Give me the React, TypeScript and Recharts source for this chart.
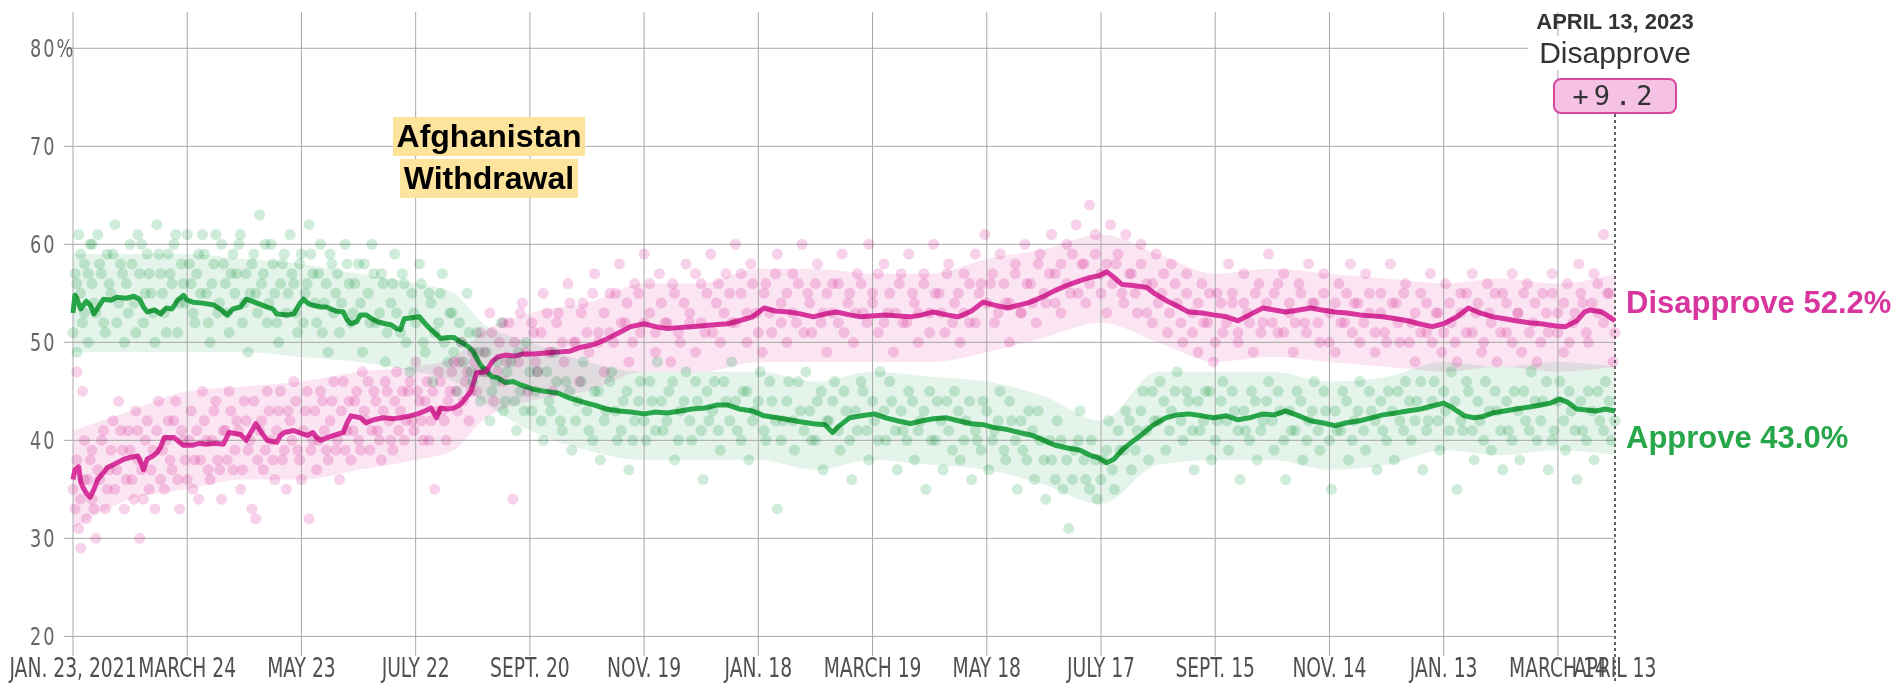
import React from "react";
import {
  ComposedChart, Line, Area, Scatter, XAxis, YAxis, ReferenceLine
} from "recharts";

// x = days since Jan. 23, 2021 (last day = April 13, 2023)
const X_TICKS = [0, 60, 120, 180, 240, 300, 360, 420, 480, 540, 600, 660, 720, 780, 810];
const X_LABELS = [
  "JAN. 23, 2021", "MARCH 24", "MAY 23", "JULY 22", "SEPT. 20", "NOV. 19", "JAN. 18",
  "MARCH 19", "MAY 18", "JULY 17", "SEPT. 15", "NOV. 14", "JAN. 13", "MARCH 14", "APRIL 13",
];
const Y_TICKS = [20, 30, 40, 50, 60, 70, 80];

// polling averages [day, value]
const APPROVE_LINE = [
  [0,53.0],[1,54.8],[2,54.5],[4,53.4],[7,54.2],[9,53.8],[11,52.9],[13,53.5],[16,54.4],[20,54.3],[23,54.6],[28,54.5],[32,54.7],[35,54.4],[37,53.6],[39,53.1],[43,53.3],[46,52.9],[49,53.5],[52,53.4],[55,54.3],[58,54.8],[60,54.3],[63,54.1],[68,54.0],[74,53.8],[78,53.3],[81,52.8],[84,53.4],[88,53.6],[91,54.4],[94,54.2],[98,53.9],[102,53.6],[105,53.4],[107,52.9],[113,52.8],[116,52.9],[119,53.9],[121,54.4],[124,53.9],[126,53.8],[130,53.6],[133,53.6],[138,53.2],[142,53.1],[144,52.3],[146,51.9],[149,52.1],[151,52.8],[154,52.8],[157,52.4],[160,52.1],[164,51.9],[167,51.8],[170,51.4],[172,51.3],[174,52.4],[178,52.5],[182,52.6],[185,51.9],[188,51.3],[191,50.8],[193,50.4],[197,50.5],[200,50.5],[203,50.1],[205,49.9],[208,49.5],[210,49.1],[212,48.4],[214,47.7],[217,47.1],[220,46.5],[223,46.4],[227,45.9],[231,46.0],[236,45.6],[242,45.2],[248,45.0],[255,44.8],[261,44.3],[268,43.9],[274,43.6],[280,43.2],[287,43.0],[293,42.9],[300,42.7],[306,42.9],[312,42.8],[319,43.0],[325,43.2],[332,43.3],[338,43.6],[344,43.6],[350,43.2],[357,43.0],[363,42.5],[370,42.3],[376,42.1],[382,41.9],[389,41.7],[395,41.6],[399,40.8],[402,41.4],[408,42.3],[414,42.5],[421,42.7],[427,42.3],[433,42.0],[440,41.7],[446,42.0],[452,42.2],[459,42.3],[465,42.0],[472,41.7],[478,41.6],[484,41.3],[491,41.1],[497,40.8],[504,40.5],[510,40.0],[516,39.5],[523,39.2],[529,39.0],[534,38.5],[539,38.2],[543,37.7],[547,38.1],[551,39.0],[556,39.8],[561,40.5],[567,41.5],[574,42.3],[580,42.6],[586,42.7],[593,42.5],[599,42.3],[606,42.5],[612,42.1],[618,42.3],[625,42.7],[631,42.6],[637,43.0],[644,42.5],[650,42.0],[656,41.8],[663,41.5],[669,41.8],[676,42.0],[682,42.3],[688,42.6],[695,42.8],[701,43.0],[708,43.2],[714,43.5],[720,43.8],[724,43.4],[727,43.0],[731,42.5],[736,42.3],[740,42.4],[746,42.8],[752,43.0],[758,43.2],[765,43.4],[771,43.6],[776,43.8],[781,44.2],[785,43.9],[790,43.2],[795,43.1],[800,43.0],[805,43.2],[810,43.0],
];
const DISAPPROVE_LINE = [
  [0,36.0],[1,37.0],[3,37.3],[4,35.8],[5,35.3],[7,34.6],[9,34.2],[11,35.0],[13,36.0],[16,36.7],[18,37.2],[22,37.6],[27,38.1],[31,38.3],[34,38.4],[36,37.6],[37,37.0],[39,38.1],[42,38.4],[44,38.7],[46,39.3],[48,40.3],[53,40.3],[56,39.8],[58,39.5],[63,39.5],[66,39.7],[70,39.6],[75,39.7],[79,39.6],[82,40.8],[88,40.6],[91,40.0],[94,41.0],[96,41.7],[99,40.8],[102,40.0],[107,39.8],[109,40.5],[111,40.8],[116,41.0],[120,40.7],[123,40.5],[126,40.8],[128,40.3],[130,40.0],[134,40.3],[137,40.5],[142,40.8],[144,41.8],[146,42.5],[151,42.3],[154,41.8],[158,42.1],[163,42.3],[168,42.2],[172,42.3],[177,42.5],[181,42.7],[185,43.0],[188,43.3],[191,42.3],[193,43.3],[197,43.2],[200,43.3],[203,43.6],[205,44.0],[209,45.0],[212,46.9],[217,47.0],[220,48.0],[223,48.5],[227,48.7],[232,48.6],[236,48.8],[242,48.8],[248,48.9],[254,49.0],[261,49.1],[267,49.5],[274,49.8],[280,50.3],[287,51.0],[293,51.6],[300,51.9],[306,51.6],[312,51.4],[318,51.5],[325,51.6],[331,51.7],[337,51.8],[344,51.9],[350,52.2],[357,52.6],[363,53.5],[369,53.2],[376,53.1],[382,52.9],[389,52.6],[395,52.9],[401,53.1],[408,52.8],[414,52.6],[421,52.7],[427,52.8],[433,52.7],[440,52.6],[446,52.8],[452,53.1],[459,52.8],[465,52.6],[472,53.2],[478,54.1],[484,53.8],[491,53.5],[497,53.8],[503,54.1],[510,54.7],[516,55.3],[522,55.8],[529,56.3],[534,56.6],[539,56.8],[543,57.2],[547,56.6],[551,55.9],[557,55.8],[564,55.6],[568,55.0],[574,54.3],[580,53.7],[586,53.1],[593,53.0],[599,52.8],[606,52.6],[612,52.2],[618,52.8],[625,53.5],[631,53.3],[637,53.1],[644,53.3],[650,53.5],[656,53.3],[663,53.1],[669,53.0],[676,52.8],[682,52.7],[688,52.6],[695,52.4],[701,52.2],[707,51.9],[714,51.6],[720,51.9],[727,52.6],[733,53.5],[739,53.0],[746,52.6],[752,52.4],[758,52.2],[765,52.0],[771,51.9],[778,51.7],[784,51.6],[790,52.2],[794,53.1],[797,53.3],[803,53.1],[807,52.6],[810,52.2],
];

// uncertainty bands [day, low, high]
const APPROVE_BAND = [
  [0,49,59],[30,49,59],[60,49,59],[90,49,58.5],[120,48.5,58],[150,48,57],[180,47,56],[200,46,55],[215,44,52],[240,41,50],[270,39,48],[300,38,47],[330,38,47],[360,38,47],[390,37,46],[420,38,47],[450,37.5,46.5],[480,37,46],[510,35.5,44.5],[540,33.5,42],[570,37.5,47],[600,38,47],[630,38,47],[660,37,46],[690,37.5,46.5],[720,39,48],[750,38.5,47.5],[780,39,48],[810,38.5,47.5],
];
const DISAPPROVE_BAND = [
  [0,31,41],[30,34,43],[60,35,45],[90,36,45.5],[120,36,46],[150,37,47],[180,38,47.5],[200,39,48.5],[215,42,51],[240,44,53],[270,45,54],[300,47,56],[330,47,56],[360,48,57.5],[390,48,57.5],[420,48,57],[450,48,57],[480,49,58.5],[510,50.5,59.5],[540,52,61],[570,50,59],[600,48,57],[630,48.5,57.5],[660,48,57],[690,47.5,56.5],[720,47,56],[750,47.5,56.5],[780,47,56],[810,47.5,57],
];

// individual polls [day, value]
const APPROVE_POLLS = [
  [1,57],[2,49],[3,61],[4,55],[5,52],[6,58],[8,50],[9,60],[10,56],[12,53],[13,61],[15,57],[17,51],[18,59],[20,55],[22,62],[23,52],[25,58],[27,50],[28,56],[30,60],[32,54],[34,61],[35,57],[37,52],[39,59],[41,55],[43,50],[44,62],[46,57],[48,53],[50,59],[52,56],[54,61],[55,51],[57,58],[59,54],[60,61],
  [62,56],[64,52],[66,59],[68,61],[70,55],[72,50],[74,58],[76,53],[78,60],[80,56],[82,51],[84,59],[86,57],[88,61],[90,54],[92,49],[94,58],[96,55],[98,63],[100,57],[102,52],[104,60],[106,55],[108,50],[110,58],[112,53],[114,61],[116,56],[118,51],[120,59],
  [122,55],[124,62],[126,57],[128,52],[130,60],[132,54],[134,49],[136,58],[138,55],[140,51],[143,60],[145,56],[147,53],[150,58],[152,49],[155,55],[157,60],[159,52],[162,57],[164,48],[167,54],[169,59],[172,51],[174,56],[177,47],[179,53],[182,58],[184,50],[187,55],[189,46],[192,52],[194,57],[197,48],[199,53],[202,45],[204,50],[207,55],[209,47],[212,51],[214,44],
  [217,49],[219,42],[222,46],[225,52],[227,44],[230,48],[233,41],[235,45],[238,50],[241,43],[244,47],[247,40],[250,44],[253,49],[256,42],[259,46],[262,39],[265,44],[268,48],[271,41],[274,45],[277,38],[280,43],[283,47],[286,40],[289,44],[292,37],[295,42],[298,46],[301,40],[304,44],[307,48],[310,41],[313,45],[316,38],[319,43],[322,47],[325,40],[328,44],[331,36],[334,42],[337,46],[340,39],[343,44],[346,48],[349,41],[352,45],[355,38],[358,43],[361,47],[364,40],[367,44],[370,33],[373,42],[376,46],[379,39],[382,43],[385,47],[388,40],[391,44],[394,37],[397,42],
  [400,46],[403,39],[406,43],[409,36],[412,41],[415,45],[418,38],[421,42],[424,47],[427,40],[430,44],[433,37],[436,41],[439,45],[442,38],[445,42],[448,35],[451,40],[454,44],[457,37],[460,41],[463,45],[466,38],[469,42],[472,36],[475,40],[478,44],[481,37],[484,41],[487,45],[490,38],[493,42],[496,35],[499,39],[502,43],[505,36],[508,40],[511,34],[514,38],[517,42],[520,35],[523,31],[526,39],[529,43],[532,36],[535,40],[538,34],[541,38],[544,42],[547,35],[550,39],[553,43],[556,37],
  [559,41],[562,45],[565,38],[568,42],[571,46],[574,39],[577,43],[580,47],[583,40],[586,44],[589,37],[592,41],[595,45],[598,38],[601,42],[604,46],[607,39],[610,43],[613,36],[616,41],[619,45],[622,38],[625,42],[628,46],[631,39],[634,43],[637,36],[640,41],[643,45],[646,38],[649,42],[652,46],[655,39],[658,43],[661,35],[664,41],[667,45],[670,38],[673,42],[676,46],[679,39],[682,43],[685,37],[688,41],[691,45],[694,38],[697,42],[700,46],[703,40],[706,44],[709,37],[712,42],[715,46],[718,39],[721,43],[724,47],[727,35],[730,41],[733,45],[736,38],[739,42],[742,46],[745,39],[748,43],[751,37],[754,41],[757,45],[760,38],[763,42],[766,47],[769,40],[772,44],[775,37],[778,41],[781,46],[784,39],[787,43],[790,36],[793,41],[796,45],[799,38],[802,42],[805,46],[808,40],
  [0,51],[2,56],[4,59],[6,53],[8,57],[10,60],[11,54],[14,58],[16,52],[19,56],[21,59],[24,54],[26,57],[29,53],[31,58],[33,51],[36,60],[38,55],[40,57],[42,53],[45,59],[47,55],[49,51],[51,57],[53,60],[56,54],[58,56],[61,58],[63,53],[65,57],[67,55],[69,59],[71,52],[73,56],[75,61],[77,54],[79,58],[81,53],[83,57],[85,55],[87,60],[89,52],[91,57],[93,55],[95,59],[97,53],[99,56],[101,60],[103,54],[105,58],[107,52],[109,56],[111,59],[113,55],[115,57],[117,53],[119,58],[121,52],[123,56],[125,59],[127,54],[129,57],[131,51],[133,56],[135,59],[137,53],[139,57],[141,54],[144,58],[146,52],[148,56],[151,54],[153,58],[156,52],[158,57],[161,53],[163,56],[165,51],[168,56],[170,53],[173,57],[175,50],[178,55],[180,52],[183,56],[185,49],[188,54],[190,51],[193,55],[195,50],[198,53],[200,49],[203,52],[205,48],[208,51],[210,46],[213,49],
  [216,47],[220,45],[223,48],[226,43],[228,47],[232,44],[234,49],[237,43],[240,47],[243,45],[246,42],[249,47],[251,43],[254,46],[257,41],[261,45],[264,42],[267,46],[270,43],[273,40],[276,45],[279,42],[282,46],[285,43],[288,41],[291,45],[294,40],[297,44],[300,42],[303,46],[306,41],[309,44],[312,42],[315,46],[318,40],[321,44],[324,42],[327,46],[330,41],[333,45],[336,43],[339,41],[342,46],[345,42],[348,44],[351,40],[354,45],[357,42],[360,44],[363,41],[366,46],[369,42],[372,40],[375,44],[378,42],[381,46],[384,41],[387,43],[390,40],[393,45],[396,42],[399,44],
  [402,41],[405,45],[408,40],[411,43],[414,46],[417,41],[420,44],[423,40],[426,43],[429,46],[432,41],[435,43],[438,40],[441,44],[444,41],[447,43],[450,45],[453,40],[456,42],[459,44],[462,39],[465,43],[468,40],[471,44],[474,41],[477,39],[480,43],[483,40],[486,42],[489,39],[492,44],[495,40],[498,42],[501,38],[504,41],[507,43],[510,38],[513,40],[516,36],[519,40],[522,38],[525,36],[528,40],[531,38],[534,35],[537,38],[540,36],[543,39],[546,37],[549,41],[552,39],[555,42],[558,39],
  [561,43],[564,41],[567,45],[570,42],[573,44],[576,41],[579,45],[582,42],[585,45],[588,41],[591,44],[594,42],[597,45],[600,40],[603,44],[606,42],[609,45],[612,41],[615,43],[618,40],[621,44],[624,41],[627,44],[630,42],[633,45],[636,40],[639,43],[642,41],[645,44],[648,40],[651,43],[654,41],[657,45],[660,40],[663,43],[666,41],[669,44],[672,40],[675,43],[678,41],[681,45],[684,42],[687,44],[690,40],[693,43],[696,45],[699,41],[702,44],[705,42],[708,46],[711,41],[714,44],[717,42],[720,45],[723,41],[726,44],[729,42],[732,46],[735,41],[738,44],[741,40],[744,43],[747,45],[750,41],[753,44],[756,40],[759,43],[762,45],[765,41],[768,44],[771,42],[774,46],[777,40],[780,44],[783,42],[786,45],[789,41],[792,44],[795,40],[798,43],[801,45],[804,41],[807,44],[810,42],
];
const DISAPPROVE_POLLS = [
  [1,33],[2,47],[3,31],[4,29],[5,45],[6,36],[7,32],[9,38],[10,34],[12,30],[14,36],[15,40],[17,33],[19,37],[21,42],[22,35],[24,44],[26,39],[27,33],[29,41],[31,36],[33,43],[34,38],[35,30],[37,34],[39,42],[41,37],[43,33],[45,44],[47,39],[48,35],[50,42],[52,37],[54,44],[56,33],[58,40],[60,36],[62,43],[64,38],[66,34],[68,45],[70,40],[72,36],[74,43],[76,38],[78,34],[80,41],[82,45],[84,37],[86,42],[88,35],[90,44],[92,39],[94,33],[96,32],[98,41],[100,37],[102,45],[104,40],[106,36],[108,43],[110,38],[112,35],[114,42],[116,46],[118,39],[120,36],[122,43],[124,32],[126,40],[128,37],[130,45],[132,41],[134,38],[136,44],[138,39],[140,36],[142,46],[144,41],[146,38],[148,44],[150,40],[152,47],[154,42],[156,39],[158,45],[160,41],[162,38],[164,46],[166,42],[168,39],[170,47],[172,43],[174,40],[176,45],[178,42],[180,48],[182,44],[184,40],[186,46],[188,42],[190,35],[192,47],[194,43],[196,40],[198,45],[200,48],[202,43],[204,50],[206,46],[208,42],[210,49],[212,45],[214,51],
  [217,47],[219,53],[221,44],[224,50],[226,46],[229,52],[231,34],[234,48],[236,54],[239,45],[242,51],[244,47],[247,55],[250,49],[252,45],[255,53],[258,48],[260,56],[263,50],[266,46],[268,54],[271,49],[274,57],[276,51],[279,47],[282,55],[284,50],[287,58],[290,52],[292,48],[295,56],[298,51],[300,59],[303,53],[306,49],[308,57],[311,52],[314,48],[316,55],[319,50],[322,58],[324,53],[327,49],[330,56],[332,51],[335,59],[338,54],[340,50],[343,57],[346,52],[348,60],[351,55],[354,50],[356,58],[359,53],[362,49],[364,56],[367,51],[370,59],[372,54],[375,50],[378,57],[380,52],[383,60],[386,55],[388,51],[391,58],[394,53],[396,49],[399,56],
  [402,52],[404,59],[407,54],[410,50],[412,57],[415,53],[418,60],[420,55],[423,51],[426,58],[428,53],[431,49],[434,56],[436,52],[439,59],[442,54],[444,50],[447,57],[450,53],[452,60],[455,55],[458,51],[460,58],[463,54],[466,50],[468,57],[471,52],[474,59],[476,55],[479,61],[482,56],[484,52],[487,59],[490,54],[492,50],[495,57],[498,53],[500,60],[503,56],[506,52],[508,59],[511,54],[514,61],[516,57],[519,53],[522,60],[524,55],[527,62],[530,58],[532,54],[534,64],[537,61],[540,57],[543,53],[545,62],[548,58],[551,55],[553,61],[556,57],[559,53],
  [561,60],[564,56],[567,52],[569,59],[572,55],[575,51],[577,58],[580,54],[583,50],[585,57],[588,53],[591,49],[593,56],[596,52],[599,48],[601,55],[604,51],[607,58],[609,54],[612,50],[615,57],[617,53],[620,49],[623,56],[625,52],[628,59],[631,55],[633,51],[636,57],[639,53],[641,49],[644,56],[647,52],[649,58],[652,54],[655,50],[657,57],[660,53],[663,49],[665,56],[668,52],[671,58],[673,54],[676,50],[679,57],[681,53],[684,49],[687,55],[689,51],[692,58],[695,54],[697,50],[700,56],[703,52],[705,48],[708,55],[711,51],[713,57],[716,53],[719,49],[721,56],[724,52],[727,48],[729,55],[732,51],[735,57],[737,53],[740,49],[743,56],[745,52],[748,48],[751,55],[753,51],[756,57],[759,53],[761,49],[764,56],[767,52],[769,48],[772,55],[775,51],[777,57],[780,53],[783,49],[785,56],[788,52],[791,58],[793,54],[796,50],[799,57],[801,53],[804,61],[806,55],[809,48],
  [0,35],[2,38],[4,34],[6,40],[8,36],[10,39],[11,33],[13,37],[16,41],[18,35],[20,39],[23,37],[25,41],[28,36],[30,39],[32,34],[34,41],[36,37],[38,40],[40,35],[42,39],[44,41],[46,36],[49,40],[51,38],[53,42],[55,36],[57,41],[59,38],[61,40],[63,35],[65,41],[67,38],[69,42],[71,37],[73,40],[75,44],[77,37],[79,41],[81,38],[83,43],[85,39],[87,41],[89,37],[91,42],[93,40],[95,44],[97,38],[99,42],[101,39],[103,43],[105,38],[107,41],[109,45],[111,39],[113,43],[115,40],[117,44],[119,38],[121,41],[123,45],[125,39],[127,43],[129,40],[131,44],[133,39],[135,42],[137,46],[139,40],[141,43],[143,39],[145,44],[147,41],[149,45],[151,39],[153,43],[155,46],[157,41],[159,44],[161,40],[163,43],[165,45],[167,40],[169,44],[171,41],[173,45],[175,42],[177,46],[179,41],[181,45],[183,42],[185,44],[187,40],[189,45],[191,43],[193,46],[195,42],[197,44],[199,47],[201,45],[203,48],[205,44],[207,47],[209,45],[211,48],[213,47],
  [216,49],[220,51],[223,47],[226,52],[228,48],[232,50],[235,53],[238,49],[241,52],[243,48],[246,51],[249,53],[251,49],[254,52],[257,50],[261,54],[264,50],[267,53],[270,51],[273,55],[276,50],[279,53],[282,51],[285,55],[288,52],[291,54],[294,50],[297,55],[300,52],[303,56],[306,51],[309,54],[312,52],[315,56],[318,51],[321,54],[324,52],[327,57],[330,52],[333,55],[336,51],[339,56],[342,53],[345,55],[348,52],[351,57],[354,53],[357,56],[360,51],[363,55],[366,53],[369,57],[372,52],[375,55],[378,53],[381,56],[384,51],[387,54],[390,56],[393,52],[396,55],[399,53],
  [402,56],[405,51],[408,55],[411,53],[414,56],[417,52],[420,54],[423,57],[426,52],[429,55],[432,53],[435,57],[438,52],[441,55],[444,53],[447,56],[450,51],[453,55],[456,53],[459,57],[462,52],[465,55],[468,53],[471,56],[474,52],[477,56],[480,54],[483,57],[486,53],[489,56],[492,54],[495,58],[498,53],[501,56],[504,54],[507,58],[510,55],[513,57],[516,54],[519,58],[522,56],[525,59],[528,55],[531,58],[534,56],[537,59],[540,55],[543,58],[546,56],[549,59],[552,54],[555,57],[558,55],
  [561,58],[564,53],[567,56],[570,54],[573,57],[576,53],[579,56],[582,52],[585,55],[588,51],[591,54],[594,52],[597,55],[600,50],[603,54],[606,52],[609,55],[612,51],[615,54],[618,52],[621,55],[624,51],[627,54],[630,52],[633,56],[636,51],[639,54],[642,52],[645,55],[648,51],[651,54],[654,52],[657,55],[660,50],[663,54],[666,52],[669,55],[672,51],[675,54],[678,52],[681,55],[684,51],[687,53],[690,50],[693,54],[696,52],[699,55],[702,50],[705,53],[708,51],[711,54],[714,50],[717,53],[720,51],[723,54],[726,50],[729,53],[732,55],[735,51],[738,54],[741,50],[744,53],[747,55],[750,51],[753,54],[756,50],[759,53],[762,55],[765,51],[768,54],[771,50],[774,53],[777,55],[780,51],[783,54],[786,50],[789,53],[792,55],[795,51],[798,54],[801,56],[804,52],[807,55],[810,51],
];

const GREEN = "#28a64a";
const PINK = "#d8359f";
const GRID = "#a8a8a8";
const NARROW = "'DejaVu Sans Condensed', 'Liberation Sans Narrow', sans-serif";
const SANS = "'Liberation Sans', Arial, sans-serif";

const pts = (arr: number[][]) => arr.map(([d, v]) => ({ d, v }));
const band = (arr: number[][]) => arr.map(([d, lo, hi]) => ({ d, r: [lo, hi] }));

const dotShape = (fill: string) => (p: any) => (
  <circle cx={p.cx} cy={p.cy} r={5.5} fill={fill} fillOpacity={0.5} style={{ mixBlendMode: "multiply" }} />
);

function XTick({ x, payload }: any) {
  const i = X_TICKS.indexOf(payload.value);
  return (
    <text transform={`translate(${x},677) scale(0.8,1)`} textAnchor="middle" fill="#505050"
      fontSize={26} fontFamily={NARROW}>
      {X_LABELS[i]}
    </text>
  );
}

function YTick({ y, payload }: any) {
  return (
    <text transform={`translate(30,${y}) scale(0.82,1)`} dy="0.36em" textAnchor="start" fill="#666"
      fontSize={24} fontFamily={NARROW} letterSpacing={2.5}>
      {payload.value === 80 ? "80%" : payload.value}
    </text>
  );
}

export default function App() {
  return (
    <div style={{ position: "absolute", left: 0, top: 0, width: 1903, height: 683, background: "#fff" }}>
      <ComposedChart width={1903} height={683} margin={{ top: 12, right: 288, bottom: 0, left: 0 }}>
        <XAxis type="number" dataKey="d" domain={[0, 810]} ticks={X_TICKS} interval={0}
          height={27} axisLine={false} tickLine={false} tick={<XTick />} />
        <YAxis type="number" domain={[18, 83.7]} ticks={Y_TICKS} interval={0} width={73}
          axisLine={false} tickSize={9} tickLine={{ stroke: GRID }} tick={<YTick />} />
        {Y_TICKS.map((t) => (
          <ReferenceLine key={"y" + t} y={t} stroke={GRID} />
        ))}
        {X_TICKS.slice(0, -1).map((t) => (
          <ReferenceLine key={"x" + t} x={t} stroke={GRID} />
        ))}
        <Area data={band(APPROVE_BAND)} dataKey="r" type="monotone" stroke="none" fill="#cdebd8"
          fillOpacity={0.55} isAnimationActive={false} style={{ mixBlendMode: "multiply" }} />
        <Area data={band(DISAPPROVE_BAND)} dataKey="r" type="monotone" stroke="none" fill="#f8cfe9"
          fillOpacity={0.55} isAnimationActive={false} style={{ mixBlendMode: "multiply" }} />
        <Scatter data={pts(APPROVE_POLLS)} dataKey="v" shape={dotShape("#9ed9b3")} isAnimationActive={false} />
        <Scatter data={pts(DISAPPROVE_POLLS)} dataKey="v" shape={dotShape("#f0a6d5")} isAnimationActive={false} />
        <ReferenceLine segment={[{ x: 810, y: 73.3 }, { x: 810, y: 15.3 }]} ifOverflow="visible"
          stroke="#666" strokeWidth={2} strokeDasharray="3 3" />
        <Line data={pts(APPROVE_LINE)} dataKey="v" type="linear" stroke={GREEN} strokeWidth={5}
          dot={false} strokeLinejoin="round" isAnimationActive={false} />
        <Line data={pts(DISAPPROVE_LINE)} dataKey="v" type="linear" stroke={PINK} strokeWidth={5}
          dot={false} strokeLinejoin="round" isAnimationActive={false} />
      </ComposedChart>

      {/* event annotation */}
      <div style={{ position: "absolute", left: 339, top: 117, width: 300, display: "flex", flexDirection: "column",
        alignItems: "center", gap: 3, fontFamily: SANS, fontWeight: 700, fontSize: 32, color: "#000" }}>
        <span style={{ background: "#fde39b", padding: "0 4px", lineHeight: "39px" }}>Afghanistan</span>
        <span style={{ background: "#fde39b", padding: "0 4px", lineHeight: "39px" }}>Withdrawal</span>
      </div>

      {/* latest-day annotation */}
      <div style={{ position: "absolute", left: 1515, top: 9, width: 200, textAlign: "center", fontFamily: SANS,
        fontWeight: 700, fontSize: 22, lineHeight: "26px", color: "#333" }}>APRIL 13, 2023</div>
      <div style={{ position: "absolute", left: 1528, top: 36, width: 174, textAlign: "center", fontFamily: SANS,
        fontSize: 30, lineHeight: "34px", color: "#333", background: "#fff" }}>Disapprove</div>
      <div style={{ position: "absolute", left: 1553, top: 78, width: 120, height: 32, border: "2px solid #d6489e",
        borderRadius: 8, background: "#f5c2e6", textAlign: "center", fontFamily: "'DejaVu Sans Mono', monospace",
        fontSize: 27, lineHeight: "32px", color: "#333", letterSpacing: 5 }}>+9.2</div>

      {/* end labels */}
      <div style={{ position: "absolute", left: 1626, top: 285, fontFamily: SANS, fontWeight: 700, fontSize: 31,
        lineHeight: "36px", color: PINK, whiteSpace: "nowrap" }}>Disapprove 52.2%</div>
      <div style={{ position: "absolute", left: 1626, top: 420, fontFamily: SANS, fontWeight: 700, fontSize: 31,
        lineHeight: "36px", color: GREEN, whiteSpace: "nowrap" }}>Approve 43.0%</div>
    </div>
  );
}
